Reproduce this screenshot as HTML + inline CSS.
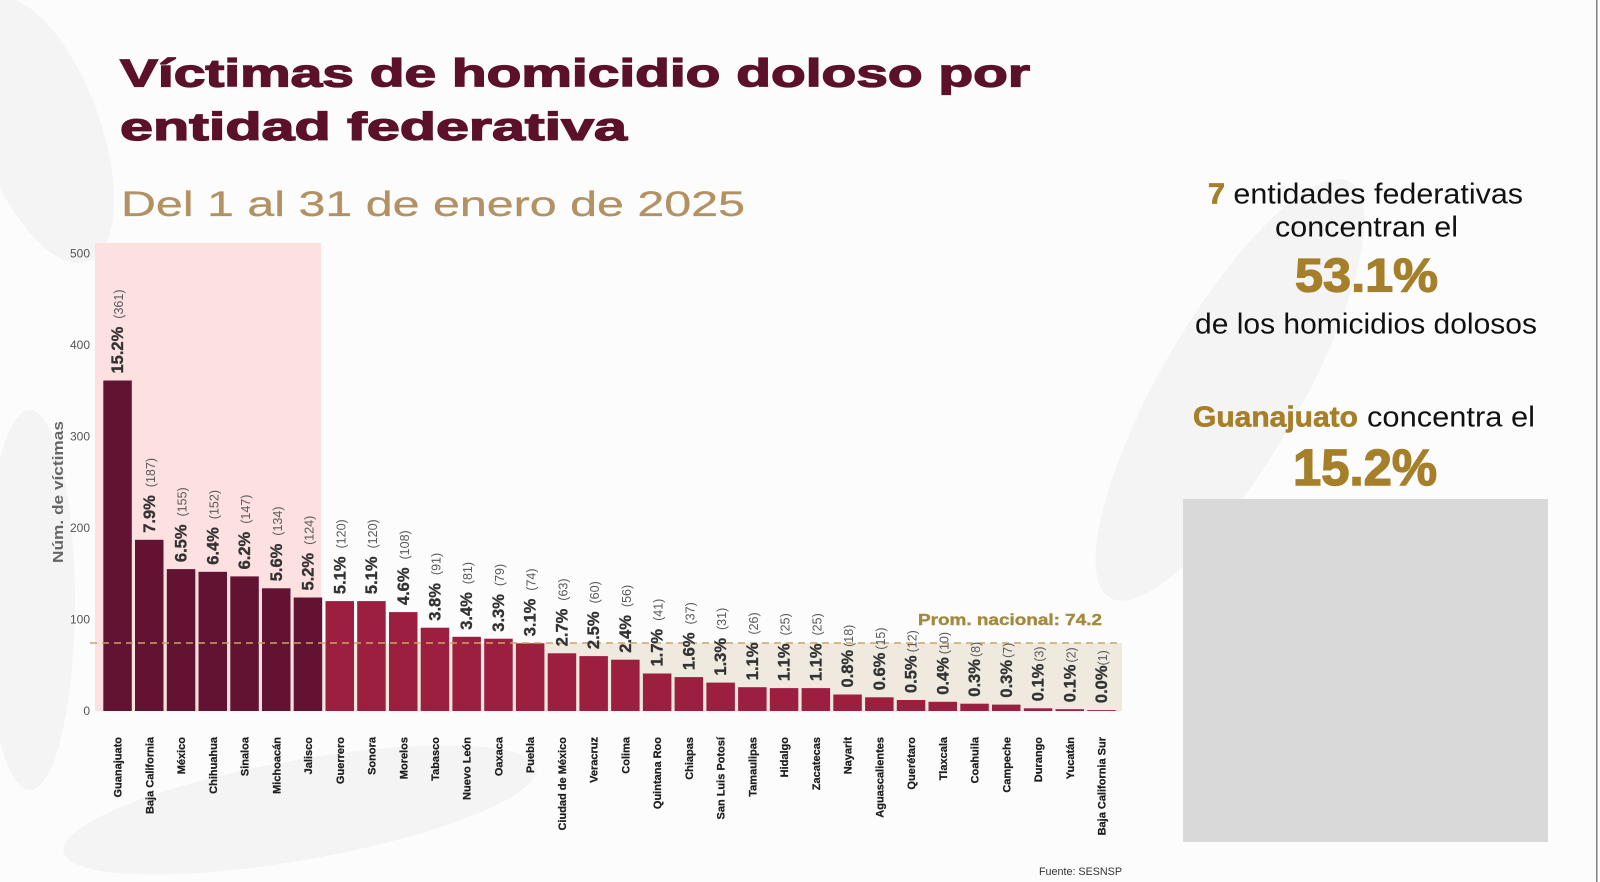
<!DOCTYPE html>
<html>
<head>
<meta charset="utf-8">
<style>
html,body{margin:0;padding:0;width:1600px;height:882px;overflow:hidden;background:#fcfcfc;}
svg{display:block;}
</style>
</head>
<body>
<svg width="1600" height="882" viewBox="0 0 1600 882" xmlns="http://www.w3.org/2000/svg" font-family="'Liberation Sans', sans-serif">
  <rect x="0" y="0" width="1600" height="882" fill="#fcfcfc"/>
  <!-- faint background swirls -->
  <g fill="#f4f4f4">
    <ellipse cx="40" cy="130" rx="60" ry="140" transform="rotate(-20 40 130)"/>
    <ellipse cx="1230" cy="390" rx="70" ry="240" transform="rotate(30 1230 390)"/>
    <ellipse cx="300" cy="810" rx="240" ry="50" transform="rotate(-10 300 810)"/>
    <ellipse cx="30" cy="600" rx="45" ry="190"/>
  </g>

  <!-- Title -->
  <g fill="#5b1129" stroke="#5b1129" stroke-width="1.3" font-weight="bold" font-size="39">
    <text x="120" y="86.7" textLength="910" lengthAdjust="spacingAndGlyphs">Víctimas de homicidio doloso por</text>
    <text x="120" y="140" textLength="507" lengthAdjust="spacingAndGlyphs">entidad federativa</text>
  </g>
  <text x="121" y="216" font-size="35" fill="#b39162" stroke="#b39162" stroke-width="0.3" textLength="624" lengthAdjust="spacingAndGlyphs">Del 1 al 31 de enero de 2025</text>

  <!-- highlight regions -->
  <rect x="321" y="643" width="801" height="68" fill="#efe9e0"/>
  <rect x="95" y="243" width="226" height="468" fill="#fde0e0"/>

  <!-- y axis ticks -->
  <g font-size="12" fill="#555" text-anchor="end">
    <text x="90" y="257.5">500</text>
    <text x="90" y="349">400</text>
    <text x="90" y="440.5">300</text>
    <text x="90" y="532">200</text>
    <text x="90" y="623.5">100</text>
    <text x="90" y="715">0</text>
  </g>
  <text transform="translate(63 492) rotate(-90)" text-anchor="middle" font-size="15" font-weight="bold" fill="#666" textLength="142" lengthAdjust="spacingAndGlyphs">Núm. de víctimas</text>

  <!-- bars -->
  <g fill="#621331">
    <rect x="103.3" y="380.5" width="28.5" height="330.5"/>
    <rect x="135.0" y="539.8" width="28.5" height="171.2"/>
    <rect x="166.8" y="569.1" width="28.5" height="141.9"/>
    <rect x="198.5" y="571.8" width="28.5" height="139.2"/>
    <rect x="230.3" y="576.4" width="28.5" height="134.6"/>
    <rect x="262.0" y="588.3" width="28.5" height="122.7"/>
    <rect x="293.7" y="597.5" width="28.5" height="113.5"/>
  </g>
  <g fill="#9d1f40">
    <rect x="325.5" y="601.1" width="28.5" height="109.9"/>
    <rect x="357.2" y="601.1" width="28.5" height="109.9"/>
    <rect x="389.0" y="612.1" width="28.5" height="98.9"/>
    <rect x="420.7" y="627.7" width="28.5" height="83.3"/>
    <rect x="452.4" y="636.8" width="28.5" height="74.2"/>
    <rect x="484.2" y="638.7" width="28.5" height="72.3"/>
    <rect x="515.9" y="643.3" width="28.5" height="67.7"/>
    <rect x="547.7" y="653.3" width="28.5" height="57.7"/>
    <rect x="579.4" y="656.1" width="28.5" height="54.9"/>
    <rect x="611.1" y="659.7" width="28.5" height="51.3"/>
    <rect x="642.9" y="673.5" width="28.5" height="37.5"/>
    <rect x="674.6" y="677.1" width="28.5" height="33.9"/>
    <rect x="706.4" y="682.6" width="28.5" height="28.4"/>
    <rect x="738.1" y="687.2" width="28.5" height="23.8"/>
    <rect x="769.8" y="688.1" width="28.5" height="22.9"/>
    <rect x="801.6" y="688.1" width="28.5" height="22.9"/>
    <rect x="833.3" y="694.5" width="28.5" height="16.5"/>
    <rect x="865.1" y="697.3" width="28.5" height="13.7"/>
    <rect x="896.8" y="700.0" width="28.5" height="11.0"/>
    <rect x="928.5" y="701.8" width="28.5" height="9.2"/>
    <rect x="960.3" y="703.7" width="28.5" height="7.3"/>
    <rect x="992.0" y="704.6" width="28.5" height="6.4"/>
    <rect x="1023.8" y="708.3" width="28.5" height="2.7"/>
    <rect x="1055.5" y="709.2" width="28.5" height="1.8"/>
    <rect x="1087.2" y="710.1" width="28.5" height="0.9"/>
  </g>

  <!-- average line -->
  <line x1="90" y1="643" x2="1122" y2="643" stroke="#c9a46e" stroke-width="1.6" stroke-dasharray="7 5"/>
  <text x="918" y="625" font-size="16" font-weight="bold" fill="#a48a3c" stroke="#a48a3c" stroke-width="0.4" textLength="184" lengthAdjust="spacingAndGlyphs">Prom. nacional: 74.2</text>

  <!-- value labels -->
  <g font-size="16.5" font-weight="bold" fill="#333" stroke="#333" stroke-width="0.35">
    <text transform="translate(123.05 373.5) rotate(-90)">15.2%<tspan dx="8" font-size="12.5" font-weight="normal" fill="#5a5a5a" stroke="none">(361)</tspan></text>
    <text transform="translate(154.75 532.8) rotate(-90)">7.9%<tspan dx="8" font-size="12.5" font-weight="normal" fill="#5a5a5a" stroke="none">(187)</tspan></text>
    <text transform="translate(186.55 562.1) rotate(-90)">6.5%<tspan dx="8" font-size="12.5" font-weight="normal" fill="#5a5a5a" stroke="none">(155)</tspan></text>
    <text transform="translate(218.25 564.8) rotate(-90)">6.4%<tspan dx="8" font-size="12.5" font-weight="normal" fill="#5a5a5a" stroke="none">(152)</tspan></text>
    <text transform="translate(250.05 569.4) rotate(-90)">6.2%<tspan dx="8" font-size="12.5" font-weight="normal" fill="#5a5a5a" stroke="none">(147)</tspan></text>
    <text transform="translate(281.75 581.3) rotate(-90)">5.6%<tspan dx="8" font-size="12.5" font-weight="normal" fill="#5a5a5a" stroke="none">(134)</tspan></text>
    <text transform="translate(313.45 590.5) rotate(-90)">5.2%<tspan dx="8" font-size="12.5" font-weight="normal" fill="#5a5a5a" stroke="none">(124)</tspan></text>
    <text transform="translate(345.25 594.1) rotate(-90)">5.1%<tspan dx="8" font-size="12.5" font-weight="normal" fill="#5a5a5a" stroke="none">(120)</tspan></text>
    <text transform="translate(376.95 594.1) rotate(-90)">5.1%<tspan dx="8" font-size="12.5" font-weight="normal" fill="#5a5a5a" stroke="none">(120)</tspan></text>
    <text transform="translate(408.75 605.1) rotate(-90)">4.6%<tspan dx="8" font-size="12.5" font-weight="normal" fill="#5a5a5a" stroke="none">(108)</tspan></text>
    <text transform="translate(440.45 620.7) rotate(-90)">3.8%<tspan dx="8" font-size="12.5" font-weight="normal" fill="#5a5a5a" stroke="none">(91)</tspan></text>
    <text transform="translate(472.15 629.8) rotate(-90)">3.4%<tspan dx="8" font-size="12.5" font-weight="normal" fill="#5a5a5a" stroke="none">(81)</tspan></text>
    <text transform="translate(503.95 631.7) rotate(-90)">3.3%<tspan dx="8" font-size="12.5" font-weight="normal" fill="#5a5a5a" stroke="none">(79)</tspan></text>
    <text transform="translate(535.65 636.3) rotate(-90)">3.1%<tspan dx="8" font-size="12.5" font-weight="normal" fill="#5a5a5a" stroke="none">(74)</tspan></text>
    <text transform="translate(567.45 646.3) rotate(-90)">2.7%<tspan dx="8" font-size="12.5" font-weight="normal" fill="#5a5a5a" stroke="none">(63)</tspan></text>
    <text transform="translate(599.15 649.1) rotate(-90)">2.5%<tspan dx="8" font-size="12.5" font-weight="normal" fill="#5a5a5a" stroke="none">(60)</tspan></text>
    <text transform="translate(630.85 652.7) rotate(-90)">2.4%<tspan dx="8" font-size="12.5" font-weight="normal" fill="#5a5a5a" stroke="none">(56)</tspan></text>
    <text transform="translate(662.65 666.5) rotate(-90)">1.7%<tspan dx="8" font-size="12.5" font-weight="normal" fill="#5a5a5a" stroke="none">(41)</tspan></text>
    <text transform="translate(694.35 670.1) rotate(-90)">1.6%<tspan dx="8" font-size="12.5" font-weight="normal" fill="#5a5a5a" stroke="none">(37)</tspan></text>
    <text transform="translate(726.15 675.6) rotate(-90)">1.3%<tspan dx="8" font-size="12.5" font-weight="normal" fill="#5a5a5a" stroke="none">(31)</tspan></text>
    <text transform="translate(757.85 680.2) rotate(-90)">1.1%<tspan dx="8" font-size="12.5" font-weight="normal" fill="#5a5a5a" stroke="none">(26)</tspan></text>
    <text transform="translate(789.55 681.1) rotate(-90)">1.1%<tspan dx="8" font-size="12.5" font-weight="normal" fill="#5a5a5a" stroke="none">(25)</tspan></text>
    <text transform="translate(821.35 681.1) rotate(-90)">1.1%<tspan dx="8" font-size="12.5" font-weight="normal" fill="#5a5a5a" stroke="none">(25)</tspan></text>
    <text transform="translate(853.05 687.5) rotate(-90)">0.8%<tspan dx="3" font-size="12.5" font-weight="normal" fill="#5a5a5a" stroke="none">(18)</tspan></text>
    <text transform="translate(884.85 690.3) rotate(-90)">0.6%<tspan dx="3" font-size="12.5" font-weight="normal" fill="#5a5a5a" stroke="none">(15)</tspan></text>
    <text transform="translate(916.55 693.0) rotate(-90)">0.5%<tspan dx="3" font-size="12.5" font-weight="normal" fill="#5a5a5a" stroke="none">(12)</tspan></text>
    <text transform="translate(948.25 694.8) rotate(-90)">0.4%<tspan dx="3" font-size="12.5" font-weight="normal" fill="#5a5a5a" stroke="none">(10)</tspan></text>
    <text transform="translate(980.05 696.7) rotate(-90)">0.3%<tspan dx="2" font-size="12.5" font-weight="normal" fill="#5a5a5a" stroke="none">(8)</tspan></text>
    <text transform="translate(1011.75 697.6) rotate(-90)">0.3%<tspan dx="2" font-size="12.5" font-weight="normal" fill="#5a5a5a" stroke="none">(7)</tspan></text>
    <text transform="translate(1043.55 701.3) rotate(-90)">0.1%<tspan dx="2" font-size="12.5" font-weight="normal" fill="#5a5a5a" stroke="none">(3)</tspan></text>
    <text transform="translate(1075.25 702.2) rotate(-90)">0.1%<tspan dx="2" font-size="12.5" font-weight="normal" fill="#5a5a5a" stroke="none">(2)</tspan></text>
    <text transform="translate(1106.95 703.1) rotate(-90)">0.0%<tspan dx="0" font-size="12.5" font-weight="normal" fill="#5a5a5a" stroke="none">(1)</tspan></text>
  </g>

  <!-- x labels -->
  <g font-size="11" font-weight="bold" fill="#1e1e1e" stroke="#1e1e1e" stroke-width="0.25" text-anchor="end">
    <text transform="translate(121.55 737) rotate(-90)">Guanajuato</text>
    <text transform="translate(153.25 737) rotate(-90)">Baja California</text>
    <text transform="translate(185.05 737) rotate(-90)">México</text>
    <text transform="translate(216.75 737) rotate(-90)">Chihuahua</text>
    <text transform="translate(248.55 737) rotate(-90)">Sinaloa</text>
    <text transform="translate(280.25 737) rotate(-90)">Michoacán</text>
    <text transform="translate(311.95 737) rotate(-90)">Jalisco</text>
    <text transform="translate(343.75 737) rotate(-90)">Guerrero</text>
    <text transform="translate(375.45 737) rotate(-90)">Sonora</text>
    <text transform="translate(407.25 737) rotate(-90)">Morelos</text>
    <text transform="translate(438.95 737) rotate(-90)">Tabasco</text>
    <text transform="translate(470.65 737) rotate(-90)">Nuevo León</text>
    <text transform="translate(502.45 737) rotate(-90)">Oaxaca</text>
    <text transform="translate(534.15 737) rotate(-90)">Puebla</text>
    <text transform="translate(565.95 737) rotate(-90)">Ciudad de México</text>
    <text transform="translate(597.65 737) rotate(-90)">Veracruz</text>
    <text transform="translate(629.35 737) rotate(-90)">Colima</text>
    <text transform="translate(661.15 737) rotate(-90)">Quintana Roo</text>
    <text transform="translate(692.85 737) rotate(-90)">Chiapas</text>
    <text transform="translate(724.65 737) rotate(-90)">San Luis Potosí</text>
    <text transform="translate(756.35 737) rotate(-90)">Tamaulipas</text>
    <text transform="translate(788.05 737) rotate(-90)">Hidalgo</text>
    <text transform="translate(819.85 737) rotate(-90)">Zacatecas</text>
    <text transform="translate(851.55 737) rotate(-90)">Nayarit</text>
    <text transform="translate(883.35 737) rotate(-90)">Aguascalientes</text>
    <text transform="translate(915.05 737) rotate(-90)">Querétaro</text>
    <text transform="translate(946.75 737) rotate(-90)">Tlaxcala</text>
    <text transform="translate(978.55 737) rotate(-90)">Coahuila</text>
    <text transform="translate(1010.25 737) rotate(-90)">Campeche</text>
    <text transform="translate(1042.05 737) rotate(-90)">Durango</text>
    <text transform="translate(1073.75 737) rotate(-90)">Yucatán</text>
    <text transform="translate(1105.45 737) rotate(-90)">Baja California Sur</text>
  </g>

  <text x="1039" y="875" font-size="11" fill="#333" textLength="83" lengthAdjust="spacingAndGlyphs">Fuente: SESNSP</text>

  <!-- right panel -->
  <text x="1208" y="203.3" font-size="29" fill="#111" textLength="315" lengthAdjust="spacingAndGlyphs"><tspan font-weight="bold" fill="#a67f2a" stroke="#a67f2a" stroke-width="0.8">7</tspan> entidades federativas</text>
  <text x="1275" y="236.7" font-size="29" fill="#111" textLength="183" lengthAdjust="spacingAndGlyphs">concentran el</text>
  <text x="1295" y="291.7" font-size="47" font-weight="bold" fill="#a67f2a" stroke="#a67f2a" stroke-width="1.3" textLength="143" lengthAdjust="spacingAndGlyphs">53.1%</text>
  <text x="1195" y="333.3" font-size="29" fill="#111" textLength="342" lengthAdjust="spacingAndGlyphs">de los homicidios dolosos</text>
  <text x="1193" y="426.7" font-size="29" font-weight="bold" fill="#a67f2a" stroke="#a67f2a" stroke-width="0.6" textLength="165" lengthAdjust="spacingAndGlyphs">Guanajuato</text>
  <text x="1367" y="426.7" font-size="29" fill="#111" textLength="168" lengthAdjust="spacingAndGlyphs">concentra el</text>
  <text x="1293" y="485" font-size="51" font-weight="bold" fill="#a67f2a" stroke="#a67f2a" stroke-width="1.4" textLength="144" lengthAdjust="spacingAndGlyphs">15.2%</text>

  <rect x="1183" y="499" width="365" height="343" fill="#d9d9d9"/>

  <!-- right edge line -->
  <rect x="1596" y="0" width="1.6" height="882" fill="#808080"/>
  <rect x="1597.6" y="0" width="2.4" height="882" fill="#ffffff"/>
</svg>
</body>
</html>
